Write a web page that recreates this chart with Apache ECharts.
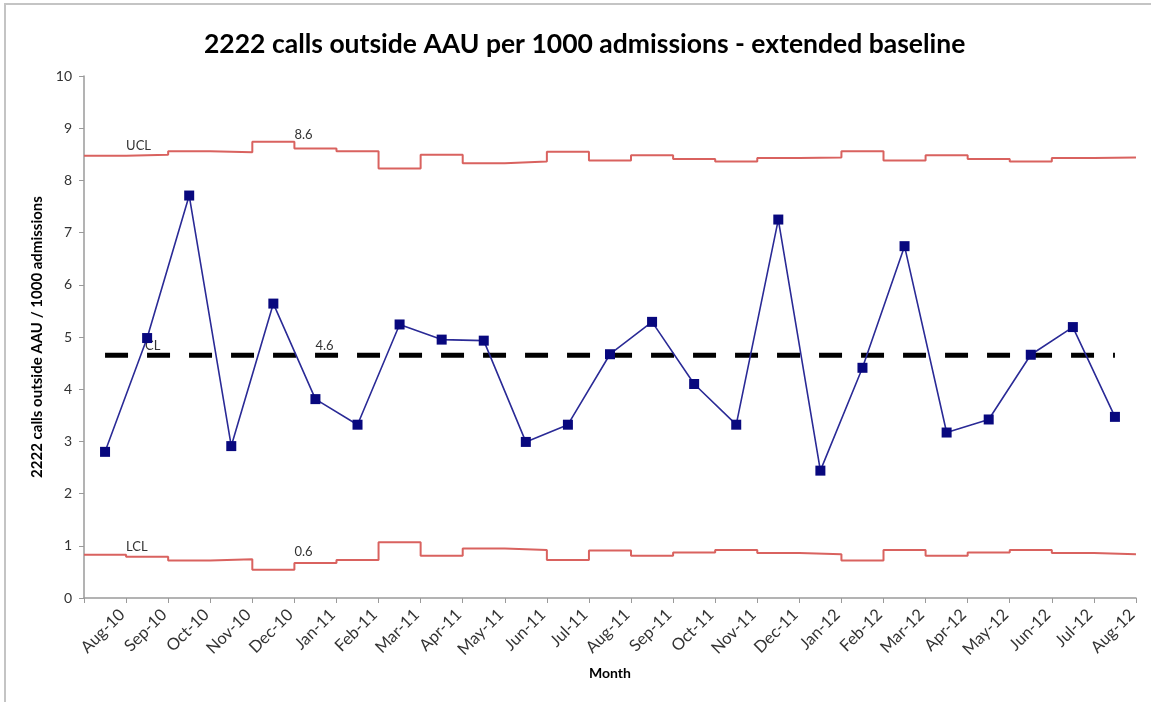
<!DOCTYPE html>
<html>
<head>
<meta charset="utf-8">
<script src="https://cdn.jsdelivr.net/npm/echarts@6/dist/echarts.min.js"></script>
<style>
html,body{margin:0;padding:0;background:#fff;}
#chart{width:1151px;height:702px;}
</style>
</head>
<body>
<div id="chart"></div>
<script>
const months = ['Aug-10','Sep-10','Oct-10','Nov-10','Dec-10','Jan-11','Feb-11','Mar-11','Apr-11','May-11','Jun-11','Jul-11','Aug-11','Sep-11','Oct-11','Nov-11','Dec-11','Jan-12','Feb-12','Mar-12','Apr-12','May-12','Jun-12','Jul-12','Aug-12'];
const rate = [2.80,4.98,7.71,2.91,5.64,3.81,3.32,5.24,4.95,4.93,2.99,3.32,4.67,5.29,4.10,3.32,7.25,2.44,4.41,6.74,3.17,3.42,4.66,5.19,3.47];
const ucl = [8.47,8.49,8.56,8.54,8.74,8.61,8.56,8.23,8.49,8.33,8.36,8.55,8.38,8.48,8.41,8.36,8.43,8.44,8.56,8.38,8.48,8.41,8.36,8.43,8.44];
const lcl = [0.83,0.79,0.72,0.74,0.54,0.67,0.73,1.07,0.81,0.95,0.92,0.73,0.91,0.81,0.87,0.92,0.86,0.84,0.72,0.92,0.81,0.87,0.92,0.86,0.84];
const clValue = 4.65;
const yTicks = [0,1,2,3,4,5,6,7,8,9,10];

const FONT = 'Lato';
const txt = '#333';

function stepData(vals, labelIdx, labels, offY) {
  const d = vals.map((v, i) => ({ value: [i, v] }));
  d.push({ value: [vals.length, vals[vals.length - 1]] });
  labelIdx.forEach((idx, k) => {
    d[idx].label = {
      show: true, formatter: labels[k], position: 'top', align: 'left',
      distance: 3, offset: [0, offY[k]], color: txt, fontFamily: FONT, fontSize: 13
    };
  });
  return d;
}

const clData = months.map((m, i) => {
  const o = { value: clValue };
  if (i === 1) o.label = { show: true, formatter: 'CL', position: 'top', align: 'left', distance: 3, offset: [-2, 0], color: txt, fontFamily: FONT, fontSize: 13 };
  if (i === 5) o.label = { show: true, formatter: '4.6', position: 'top', align: 'left', distance: 3, offset: [0, 0], color: txt, fontFamily: FONT, fontSize: 13 };
  return o;
});

const chart = echarts.init(document.getElementById('chart'));
chart.setOption({
  animation: false,
  backgroundColor: '#fff',
  title: {
    text: '2222 calls outside AAU per 1000 admissions - extended baseline',
    left: 199, top: 26,
    textStyle: { fontFamily: FONT, fontWeight: 'bold', fontSize: 26.5, color: '#000' }
  },
  graphic: [{
    type: 'rect', shape: { x: 5, y: 4, width: 1200, height: 800 },
    style: { fill: 'none', stroke: '#c4c4c4', lineWidth: 2 }, silent: true
  }],
  grid: { left: 84, right: 15, top: 76, bottom: 104 },
  xAxis: [{
    type: 'category', data: months, boundaryGap: true,
    name: 'Month', nameLocation: 'middle', nameGap: 68, nameMoveOverlap: false,
    nameTextStyle: { fontFamily: FONT, fontWeight: 'bold', fontSize: 14, color: '#000' },
    axisLine: { lineStyle: { color: '#9a9a9a', width: 1.5 } },
    axisTick: { show: true, length: 5, lineStyle: { color: '#9a9a9a' } },
    axisLabel: { rotate: 45, margin: -3, verticalAlign: 'top', lineHeight: 48, fontFamily: FONT, fontSize: 16.5, color: txt, interval: 0 },
    splitLine: { show: false }
  }, {
    type: 'value', min: 0, max: months.length, show: false
  }],
  yAxis: {
    type: 'value', min: yTicks[0], max: yTicks[yTicks.length - 1], interval: 1,
    name: '2222 calls outside AAU / 1000 admissions', nameLocation: 'middle', nameGap: 36,
    nameTextStyle: { fontFamily: FONT, fontWeight: 'bold', fontSize: 15, color: '#000' },
    axisLine: { show: true, lineStyle: { color: '#9a9a9a', width: 1.5 } },
    axisTick: { show: true, length: 5, lineStyle: { color: '#9a9a9a' } },
    axisLabel: { margin: 12, fontFamily: FONT, fontSize: 14, color: txt },
    splitLine: { show: false }
  },
  series: [
    {
      name: 'UCL', type: 'line', xAxisIndex: 1, step: 'end', symbol: 'circle', symbolSize: 0,
      showAllSymbol: true,
      data: stepData(ucl, [1, 5], ['UCL', '8.6'], [0, -4]),
      lineStyle: { color: '#d9625f', width: 2 }, itemStyle: { color: '#d9625f' }, z: 2
    },
    {
      name: 'LCL', type: 'line', xAxisIndex: 1, step: 'end', symbol: 'circle', symbolSize: 0,
      showAllSymbol: true,
      data: stepData(lcl, [1, 5], ['LCL', '0.6'], [0, -2]),
      lineStyle: { color: '#d9625f', width: 2 }, itemStyle: { color: '#d9625f' }, z: 2
    },
    {
      name: 'CL', type: 'line', xAxisIndex: 0, symbol: 'circle', symbolSize: 0, showAllSymbol: true,
      data: clData,
      lineStyle: { color: '#000', width: 5, type: [23, 19] }, itemStyle: { color: '#000' }, z: 3
    },
    {
      name: '2222 calls', type: 'line', xAxisIndex: 0, data: rate,
      symbol: 'rect', symbolSize: 10,
      itemStyle: { color: '#08087e' },
      lineStyle: { color: '#2a2a96', width: 1.6 }, z: 4
    }
  ]
});
</script>
</body>
</html>
